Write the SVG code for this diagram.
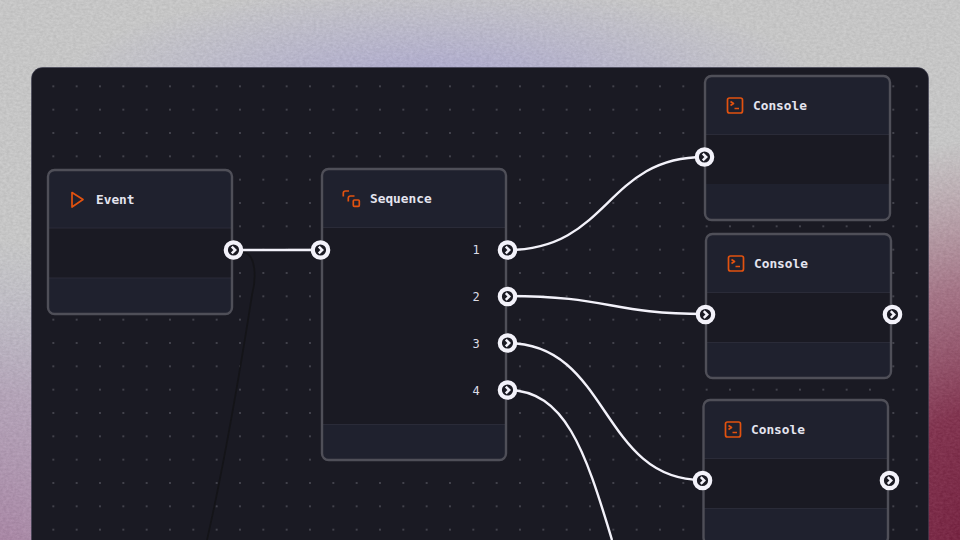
<svg xmlns="http://www.w3.org/2000/svg" width="960" height="540" viewBox="0 0 960 540">
<style>
.hd{fill:#1f212e}.bd{fill:#1a1a23}.sep{stroke:#2a2b38;stroke-width:1;fill:none}
.fr{fill:none;stroke:#4f4f58;stroke-width:2.400}
.t{font-family:"DejaVu Sans Mono","Liberation Mono",monospace;font-size:12.800px;font-weight:600;fill:#e4e4ee}
.n{font-family:"DejaVu Sans Mono","Liberation Mono",monospace;font-size:12px;fill:#dcdce6;text-anchor:middle}
.ic{fill:none;stroke:#e2520f;stroke-width:1.700;stroke-linejoin:round}
.w{fill:none;stroke:#f3f2fa;stroke-width:2.400}
.pr{fill:#1a1a23;stroke:#f3f2fa;stroke-width:4.200}
.ch{fill:none;stroke:#f3f2fa;stroke-width:2.500}
</style>
<defs>
<radialGradient id="g1" gradientUnits="userSpaceOnUse" cx="0" cy="0" r="1" gradientTransform="translate(440 85) scale(380 100)"><stop offset="0" stop-color="#a9a4d4" stop-opacity=".85"/><stop offset="1" stop-color="#a9a4d4" stop-opacity="0"/></radialGradient>
<radialGradient id="g2" gradientUnits="userSpaceOnUse" cx="0" cy="0" r="1" gradientTransform="translate(980 560) scale(290 420)"><stop offset="0" stop-color="#741c3c"/><stop offset=".35" stop-color="#7f2a48" stop-opacity=".96"/><stop offset=".65" stop-color="#90405e" stop-opacity=".62"/><stop offset="1" stop-color="#a06078" stop-opacity="0"/></radialGradient>
<radialGradient id="g3" gradientUnits="userSpaceOnUse" cx="0" cy="0" r="1" gradientTransform="translate(0 580) scale(240 340)"><stop offset="0" stop-color="#a67a9e" stop-opacity=".95"/><stop offset=".55" stop-color="#a688ae" stop-opacity=".55"/><stop offset="1" stop-color="#a8a8cc" stop-opacity="0"/></radialGradient>
<filter id="nz" x="0" y="0" width="100%" height="100%" color-interpolation-filters="sRGB"><feTurbulence type="fractalNoise" baseFrequency=".3 .45" numOctaves="3" seed="3"/><feColorMatrix values="1.600 0 0 0 -.3 1.600 0 0 0 -.3 1.600 0 0 0 -.3 0 0 0 0 .06"/></filter>
<pattern id="dots" patternUnits="userSpaceOnUse" x="30" y="63" width="23.333" height="23.333"><circle cx="23.333" cy="23.333" r=".75" fill="#7c7c86"/><circle cx="0" cy="0" r=".75" fill="#7c7c86"/><circle cx="23.333" cy="0" r=".75" fill="#7c7c86"/><circle cx="0" cy="23.333" r=".75" fill="#7c7c86"/></pattern>
<g id="cons"><rect x="0" y="0" width="15" height="15" rx="2" class="ic"/><path d="M3 3.500L6 5.500L3 7.500M7 10.500H11.500" class="ic" stroke-width="1.400"/></g>
<g id="port"><circle r="7.700" class="pr"/><path d="M-1.700 -3.300L1.700 0L-1.700 3.300" class="ch"/></g>
</defs>
<g id="background">
<rect width="960" height="540" fill="#cacaca"/>
<rect width="960" height="540" fill="url(#g1)"/>
<rect width="960" height="540" fill="url(#g3)"/>
<rect width="960" height="540" fill="url(#g2)"/>
<rect width="960" height="540" filter="url(#nz)"/>
</g>
<g id="panel">
<rect x="31.500" y="67.500" width="897" height="521" rx="11" fill="#1a1a23" stroke="#3c3c50" stroke-opacity=".55"/>
<rect x="32" y="68" width="896" height="520" rx="10" fill="url(#dots)"/>
</g>
<g id="connectors">
<path d="M243 252C257 254 256 280 252 295C241 365 224 465 207 540" fill="none" stroke="#141418" stroke-width="1.700"/>
<path d="M288 249.300H320" fill="none" stroke="#8a8a94" stroke-width="1"/>
</g>
<g id="node-event">
<rect x="48" y="170" width="184" height="144" rx="8" class="hd"/>
<rect x="48" y="228" width="184" height="50" class="bd"/>
<path class="sep" d="M49 228H231M49 278H231"/>
<rect x="48" y="170" width="184" height="144" rx="6.500" class="fr"/>
<path d="M72 192.500L83 199.500L72 207Z" class="ic"/>
<text x="96" y="203.500" class="t">Event</text>
</g>
<g id="node-sequence">
<rect x="322" y="169" width="184" height="291" rx="8" class="hd"/>
<rect x="322" y="227" width="184" height="197" class="bd"/>
<path class="sep" d="M323 227.500H505M323 424.500H505"/>
<rect x="322" y="169" width="184" height="291" rx="6.500" class="fr"/>
<path d="M349 191H345.500Q343.300 191 343.300 193.200V196.500M354.500 196H350.500Q348.300 196 348.300 198.200V201.500" class="ic" stroke-width="2"/>
<rect x="353.300" y="200" width="6" height="6.300" rx="1" class="ic" stroke-width="2"/>
<text x="370" y="203" class="t">Sequence</text>
<text x="476" y="254" class="n">1</text>
<text x="476" y="301" class="n">2</text>
<text x="476" y="348" class="n">3</text>
<text x="476" y="395" class="n">4</text>
</g>
<g id="node-console-1">
<rect x="705" y="76" width="185" height="144" rx="8" class="hd"/>
<rect x="705" y="134" width="185" height="50" class="bd"/>
<path class="sep" d="M706 134.500H889"/>
<rect x="705" y="76" width="185" height="144" rx="6.500" class="fr"/>
<use href="#cons" x="727.500" y="98"/>
<text x="753" y="110" class="t">Console</text>
</g>
<g id="node-console-2">
<rect x="706" y="234" width="185" height="144" rx="8" class="hd"/>
<rect x="706" y="292" width="185" height="50" class="bd"/>
<path class="sep" d="M707 292.500H890M707 342.500H890"/>
<rect x="706" y="234" width="185" height="144" rx="6.500" class="fr"/>
<use href="#cons" x="728.500" y="256"/>
<text x="754" y="268" class="t">Console</text>
</g>
<g id="node-console-3">
<rect x="703.500" y="400" width="184.500" height="144" rx="8" class="hd"/>
<rect x="703.500" y="458" width="184.500" height="50" class="bd"/>
<path class="sep" d="M704 458.500H887M704 508.500H887"/>
<rect x="703.500" y="400" width="184.500" height="144" rx="6.500" class="fr"/>
<use href="#cons" x="725.500" y="422"/>
<text x="751" y="434" class="t">Console</text>
</g>
<g id="edges">
<path class="w" d="M233 250H320"/>
<path class="w" d="M507 250C610 250 605 157 704 157"/>
<path class="w" d="M507 296C610 296 610 314 705 314"/>
<path class="w" d="M507 343C610 343 600 480 702 480"/>
<path class="w" d="M507 390C565 390 585 450 612 540"/>
</g>
<g id="ports">
<use href="#port" x="233.500" y="250"/><use href="#port" x="320.500" y="250"/>
<use href="#port" x="507.500" y="250"/><use href="#port" x="507.500" y="296.500"/><use href="#port" x="507.500" y="343"/><use href="#port" x="507.500" y="390"/>
<use href="#port" x="704.500" y="157"/><use href="#port" x="705.500" y="314.500"/><use href="#port" x="892.500" y="314.500"/><use href="#port" x="702.500" y="480.500"/><use href="#port" x="889.500" y="480.500"/>
</g>
</svg>
